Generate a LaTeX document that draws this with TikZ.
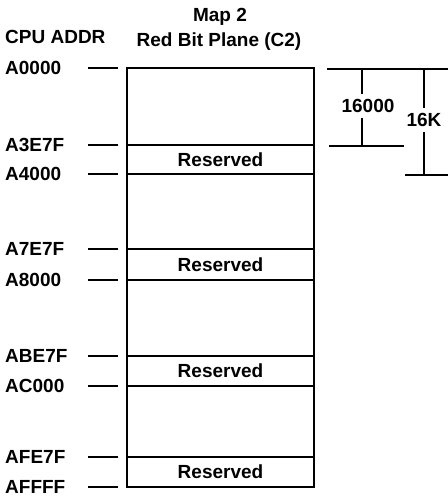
\documentclass[tikz,border=0pt]{standalone}
\usepackage{fontspec}
\setmainfont{Liberation Sans}
\usetikzlibrary{positioning, calc}

\begin{document}
\begin{tikzpicture}[
  x=1pt, y=-1pt,
  font=\fontsize{19}{21}\selectfont\bfseries,
  band/.style={draw, line width=1.6pt, minimum width=187pt, inner sep=0pt, outer sep=0pt},
  addr/.style={anchor=base west, inner sep=0pt},
  tick/.style={line width=1.1pt},
  dim/.style={line width=1.1pt},
  dimlbl/.style={inner sep=5pt}
]
  \useasboundingbox (0,0) rectangle (448,499);

  % Headings
  \node[anchor=base] (map) at (220,21) {Map 2};
  \node[anchor=base] (plane) at (219,46) {Red Bit Plane (C2)};
  \node[addr] (cpu) at (5,43) {CPU ADDR};

  % Memory bands
  \node[band, minimum height=77pt, anchor=north west] (free0) at (127,68) {};
  \node[band, minimum height=29pt, below=0pt of free0] (res0) {Reserved};
  \node[band, minimum height=75pt, below=0pt of res0] (free1) {};
  \node[band, minimum height=31pt, below=0pt of free1] (res1) {Reserved};
  \node[band, minimum height=76pt, below=0pt of res1] (free2) {};
  \node[band, minimum height=30pt, below=0pt of free2] (res2) {Reserved};
  \node[band, minimum height=71pt, below=0pt of res2] (free3) {};
  \node[band, minimum height=30pt, below=0pt of free3] (res3) {Reserved};

  % Addresses
  \foreach \y/\a in {68/A0000, 145/A3E7F, 174/A4000, 249/A7E7F, 280/A8000,
                     356/ABE7F, 386/AC000, 457/AFE7F, 487/AFFFF} {
    \node[addr] (a\a) at (5,\y+6) {\a};
    \coordinate (t\a) at (118,\y);
    \draw[tick] (t\a) -- ++(-30,0);
  }

  % Size marks
  \coordinate (topl) at (327,69);
  \coordinate (topr) at (448,69);
  \coordinate (midl) at (329,146);
  \coordinate (midr) at (404,146);
  \coordinate (lowl) at (405,175);
  \coordinate (lowr) at (448,175);
  \draw[dim] (topl) -- (topr);
  \draw[dim] (midl) -- (midr);
  \draw[dim] (lowl) -- (lowr);

  \node[dimlbl] (n16000) at (368,106) {16000};
  \draw[dim] (362,69) -- (n16000.north -| 362,0);
  \draw[dim] (n16000.south -| 362,0) -- (362,146);

  \node[dimlbl] (n16k) at (424,120) {16K};
  \draw[dim] (424,69) -- (n16k.north);
  \draw[dim] (n16k.south) -- (424,175);
\end{tikzpicture}
\end{document}
